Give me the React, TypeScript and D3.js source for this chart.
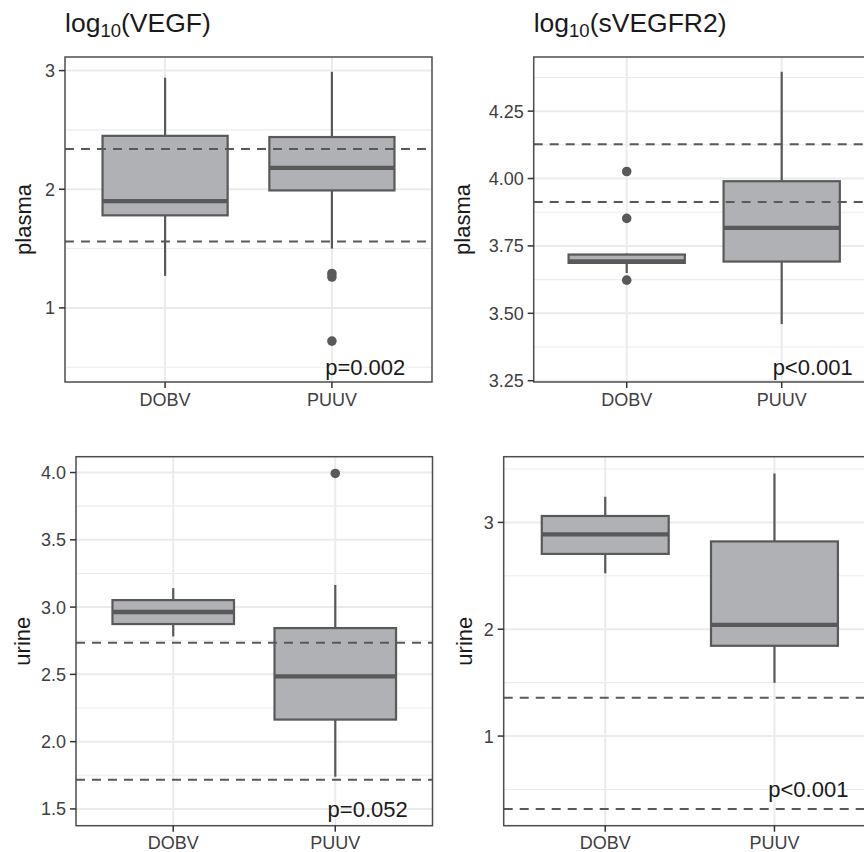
import React from "react";
import * as d3 from "d3";

// ---------- data ----------
const groups = ["DOBV", "PUUV"];

// box stats per group: [lowerWhisker, Q1, median, Q3, upperWhisker]
const vegfPlasmaBox = [
  [1.27, 1.78, 1.9, 2.45, 2.94],
  [1.5, 1.99, 2.18, 2.44, 2.99],
];
const vegfPlasmaOutliers = [[], [1.29, 1.26, 0.72]];
const vegfPlasmaRefs = [2.34, 1.56];
const vegfPlasmaTicks = [1, 2, 3];
const vegfPlasmaP = "p=0.002";
const vegfPlasmaPY = 0.5;

const svegfr2PlasmaBox = [
  [3.65, 3.687, 3.692, 3.718, 3.722],
  [3.46, 3.692, 3.817, 3.99, 4.396],
];
const svegfr2PlasmaOutliers = [[4.026, 3.852, 3.623], []];
const svegfr2PlasmaRefs = [4.127, 3.913];
const svegfr2PlasmaTicks = [3.25, 3.5, 3.75, 4.0, 4.25];
const svegfr2PlasmaP = "p<0.001";
const svegfr2PlasmaPY = 3.3;

const vegfUrineBox = [
  [2.782, 2.874, 2.963, 3.052, 3.141],
  [1.74, 2.164, 2.485, 2.844, 3.165],
];
const vegfUrineOutliers = [[], [3.993]];
const vegfUrineRefs = [2.735, 1.716];
const vegfUrineTicks = [1.5, 2.0, 2.5, 3.0, 3.5, 4.0];
const vegfUrineP = "p=0.052";
const vegfUrinePY = 1.5;

const svegfr2UrineBox = [
  [2.523, 2.705, 2.888, 3.06, 3.24],
  [1.499, 1.845, 2.041, 2.822, 3.458],
];
const svegfr2UrineOutliers = [[], []];
const svegfr2UrineRefs = [1.359, 0.318];
const svegfr2UrineTicks = [1, 2, 3];
const svegfr2UrineP = "p<0.001";
const svegfr2UrinePY = 0.5;

const titleMarkers = ["VEGF", "sVEGFR2"];
const rowLabels = ["plasma", "urine"];

// ---------- style ----------
const FONT = "'Liberation Sans', Arial, Helvetica, sans-serif";
const DARK = "#595959";
const FILL = "#b0b1b5";
const GRID = "#ebebeb";
const AXIS_TXT = "#404040";

type PanelSpec = {
  box: number[][];
  outliers: number[][];
  refs: number[];
  ticks: number[];
  tickFmt: (v: number) => string;
  p: string;
  pY: number;
  left: number;
  top: number;
  right: number;
  bottom: number;
  ylabel: string;
  ylabelX: number;
  title?: string;
};

const panels: PanelSpec[] = [
  {
    box: vegfPlasmaBox, outliers: vegfPlasmaOutliers, refs: vegfPlasmaRefs,
    ticks: vegfPlasmaTicks, tickFmt: d3.format("d"), p: vegfPlasmaP, pY: vegfPlasmaPY,
    left: 65, top: 57, right: 432, bottom: 382, ylabel: rowLabels[0], ylabelX: 31,
    title: titleMarkers[0],
  },
  {
    box: svegfr2PlasmaBox, outliers: svegfr2PlasmaOutliers, refs: svegfr2PlasmaRefs,
    ticks: svegfr2PlasmaTicks, tickFmt: d3.format(".2f"), p: svegfr2PlasmaP, pY: svegfr2PlasmaPY,
    left: 533.7, top: 57, right: 874.7, bottom: 382, ylabel: rowLabels[0], ylabelX: 470,
    title: titleMarkers[1],
  },
  {
    box: vegfUrineBox, outliers: vegfUrineOutliers, refs: vegfUrineRefs,
    ticks: vegfUrineTicks, tickFmt: d3.format(".1f"), p: vegfUrineP, pY: vegfUrinePY,
    left: 76, top: 456.7, right: 432.5, bottom: 825.7, ylabel: rowLabels[1], ylabelX: 29.5,
  },
  {
    box: svegfr2UrineBox, outliers: svegfr2UrineOutliers, refs: svegfr2UrineRefs,
    ticks: svegfr2UrineTicks, tickFmt: d3.format("d"), p: svegfr2UrineP, pY: svegfr2UrinePY,
    left: 503.7, top: 456.7, right: 876, bottom: 825.7, ylabel: rowLabels[1], ylabelX: 472,
  },
];

const P_LABEL_X = 2.2; // in category units (1 = DOBV, 2 = PUUV)

function Panel({ s, idx }: { s: PanelSpec; idx: number }) {
  const vals = [
    ...s.box.flat(),
    ...s.outliers.flat(),
    ...s.refs,
    s.pY,
  ];
  const [mn, mx] = d3.extent(vals) as [number, number];
  const pad = (mx - mn) * 0.05;
  const y = d3.scaleLinear().domain([mn - pad, mx + pad]).range([s.bottom, s.top]);
  // discrete positions 1..n with 0.6 expansion
  const x = d3.scaleLinear().domain([0.4, groups.length + 0.6]).range([s.left, s.right]);
  const boxHalf = x(1.375) - x(1);

  const step = s.ticks[1] - s.ticks[0];
  const minor: number[] = [];
  for (let t = s.ticks[0] - step / 2; t <= y.domain()[1]; t += step) {
    if (t >= y.domain()[0]) minor.push(t);
  }
  const clipId = `clip${idx}`;
  const midY = (s.top + s.bottom) / 2;

  return (
    <g>
      <defs>
        <clipPath id={clipId}>
          <rect x={s.left} y={s.top} width={s.right - s.left} height={s.bottom - s.top} />
        </clipPath>
      </defs>
      <g clipPath={`url(#${clipId})`}>
        {minor.map((t, i) => (
          <line key={"mn" + i} x1={s.left} x2={s.right} y1={y(t)} y2={y(t)} stroke={GRID} strokeWidth={1.1} />
        ))}
        {s.ticks.map((t, i) => (
          <line key={"mj" + i} x1={s.left} x2={s.right} y1={y(t)} y2={y(t)} stroke={GRID} strokeWidth={2} />
        ))}
        {groups.map((g, i) => (
          <line key={"vx" + i} x1={x(i + 1)} x2={x(i + 1)} y1={s.top} y2={s.bottom} stroke={GRID} strokeWidth={2} />
        ))}
        {s.box.map((b, i) => {
          const cx = x(i + 1);
          return (
            <g key={"b" + i}>
              <line x1={cx} x2={cx} y1={y(b[3])} y2={y(b[4])} stroke={DARK} strokeWidth={2.2} />
              <line x1={cx} x2={cx} y1={y(b[1])} y2={y(b[0])} stroke={DARK} strokeWidth={2.2} />
              <rect
                x={cx - boxHalf}
                y={y(b[3])}
                width={boxHalf * 2}
                height={y(b[1]) - y(b[3])}
                fill={FILL}
                stroke={DARK}
                strokeWidth={2.2}
              />
              <line x1={cx - boxHalf} x2={cx + boxHalf} y1={y(b[2])} y2={y(b[2])} stroke={DARK} strokeWidth={4.4} />
              {s.outliers[i].map((o, j) => (
                <circle key={j} cx={cx} cy={y(o)} r={4.8} fill={DARK} />
              ))}
            </g>
          );
        })}
        {s.refs.map((r, i) => (
          <line key={"r" + i} x1={s.left} x2={s.right} y1={y(r)} y2={y(r)} stroke={DARK} strokeWidth={2} strokeDasharray="9,7" />
        ))}
        <text
          x={x(P_LABEL_X)}
          y={y(s.pY) + 8}
          textAnchor="middle"
          fontFamily={FONT}
          fontSize={22}
          fill="#1a1a1a"
        >
          {s.p}
        </text>
      </g>
      <rect x={s.left} y={s.top} width={s.right - s.left} height={s.bottom - s.top} fill="none" stroke="#4d4d4d" strokeWidth={1.5} />
      {s.ticks.map((t, i) => (
        <g key={"yt" + i}>
          <line x1={s.left - 6} x2={s.left} y1={y(t)} y2={y(t)} stroke="#333" strokeWidth={1.5} />
          <text x={s.left - 10} y={y(t)} dy="0.36em" textAnchor="end" fontFamily={FONT} fontSize={18} fill={AXIS_TXT}>
            {s.tickFmt(t)}
          </text>
        </g>
      ))}
      {groups.map((g, i) => (
        <g key={"xt" + i}>
          <line x1={x(i + 1)} x2={x(i + 1)} y1={s.bottom} y2={s.bottom + 6} stroke="#333" strokeWidth={1.5} />
          <text x={x(i + 1)} y={s.bottom + 23.5} textAnchor="middle" fontFamily={FONT} fontSize={18} fill={AXIS_TXT}>
            {g}
          </text>
        </g>
      ))}
      <text
        transform={`translate(${s.ylabelX},${midY}) rotate(-90)`}
        textAnchor="middle"
        fontFamily={FONT}
        fontSize={22}
        fill="#1a1a1a"
      >
        {s.ylabel}
      </text>
      {s.title && (
        <text x={s.left} y={32} fontFamily={FONT} fontSize={26.5} fill="#1a1a1a">
          log
          <tspan fontSize={18.5} dy={5}>10</tspan>
          <tspan dy={-5}>({s.title})</tspan>
        </text>
      )}
    </g>
  );
}

export default function App() {
  return (
    <svg
      width={864}
      height={852}
      viewBox="0 0 864 852"
      style={{ position: "absolute", left: 0, top: 0, background: "#fff" }}
    >
      <rect width={864} height={852} fill="#fff" />
      {panels.map((p, i) => (
        <Panel key={i} s={p} idx={i} />
      ))}
    </svg>
  );
}
